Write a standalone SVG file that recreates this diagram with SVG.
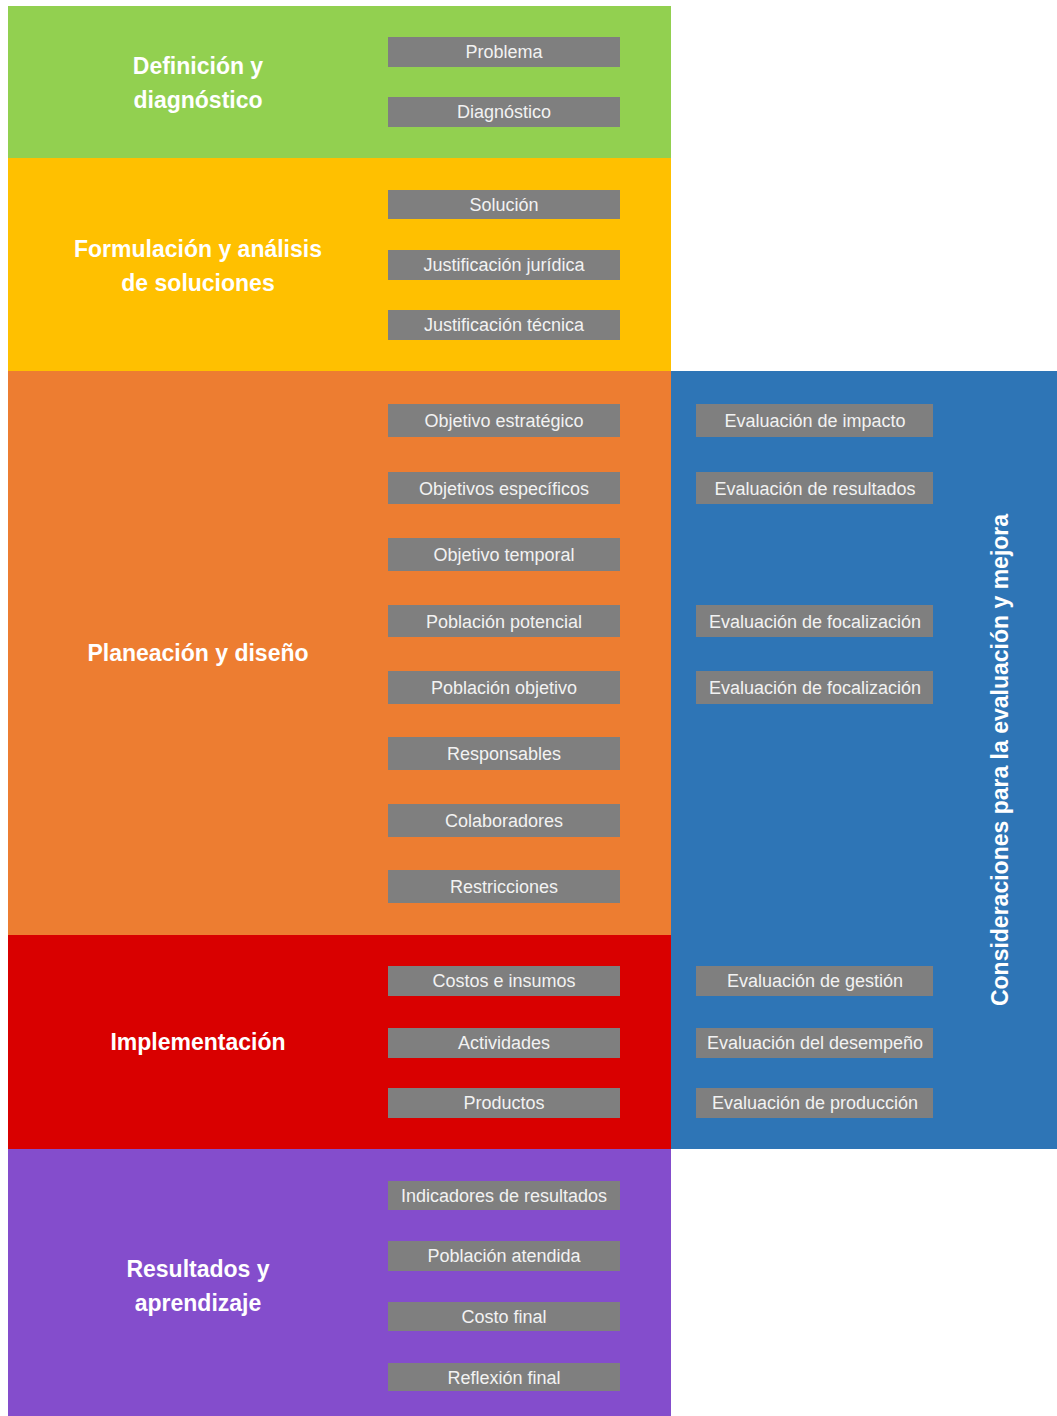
<svg xmlns="http://www.w3.org/2000/svg" width="1057" height="1416" viewBox="0 0 1057 1416">
<style>
.box{fill:#7f7f7f;}
.bt{font-family:"Liberation Sans",Arial,sans-serif;font-size:18px;fill:#f2f2f2;text-anchor:middle;}
.st{font-family:"Liberation Sans",Arial,sans-serif;font-size:23px;font-weight:bold;fill:#ffffff;text-anchor:middle;}
.vt{font-family:"Liberation Sans",Arial,sans-serif;font-size:23px;font-weight:bold;fill:#ffffff;text-anchor:middle;}
</style>
<rect width="1057" height="1416" fill="#ffffff"/>
<g id="bands">
<rect x="8" y="6" width="663" height="152" fill="#92d050"/>
<rect x="8" y="158" width="663" height="213" fill="#ffc000"/>
<rect x="8" y="371" width="663" height="564" fill="#ed7d31"/>
<rect x="8" y="935" width="663" height="214" fill="#d90000"/>
<rect x="8" y="1149" width="663" height="267" fill="#844dcc"/>
<rect x="671" y="371" width="386" height="778" fill="#2e75b6"/>
</g>
<g id="titles">
<text class="st" x="198" y="74">Definición y</text>
<text class="st" x="198" y="108">diagnóstico</text>
<text class="st" x="198" y="257">Formulación y análisis</text>
<text class="st" x="198" y="291">de soluciones</text>
<text class="st" x="198" y="661">Planeación y diseño</text>
<text class="st" x="198" y="1050">Implementación</text>
<text class="st" x="198" y="1277">Resultados y</text>
<text class="st" x="198" y="1311">aprendizaje</text>
<text class="vt" transform="translate(1008,760) rotate(-90)">Consideraciones para la evaluación y mejora</text>
</g>
<g id="left-nodes">
<g id="n-problema"><rect class="box" x="388" y="37" width="232" height="30"/><text class="bt" x="504" y="58">Problema</text></g>
<g id="n-diagnostico"><rect class="box" x="388" y="97" width="232" height="30"/><text class="bt" x="504" y="118">Diagnóstico</text></g>
<g id="n-solucion"><rect class="box" x="388" y="190" width="232" height="29"/><text class="bt" x="504" y="211">Solución</text></g>
<g id="n-jjur"><rect class="box" x="388" y="250" width="232" height="30"/><text class="bt" x="504" y="271">Justificación jurídica</text></g>
<g id="n-jtec"><rect class="box" x="388" y="310" width="232" height="30"/><text class="bt" x="504" y="331">Justificación técnica</text></g>
<g id="n-oest"><rect class="box" x="388" y="404" width="232" height="33"/><text class="bt" x="504" y="427">Objetivo estratégico</text></g>
<g id="n-oesp"><rect class="box" x="388" y="472" width="232" height="32"/><text class="bt" x="504" y="495">Objetivos específicos</text></g>
<g id="n-otem"><rect class="box" x="388" y="538" width="232" height="33"/><text class="bt" x="504" y="561">Objetivo temporal</text></g>
<g id="n-ppot"><rect class="box" x="388" y="605" width="232" height="32"/><text class="bt" x="504" y="628">Población potencial</text></g>
<g id="n-pobj"><rect class="box" x="388" y="671" width="232" height="33"/><text class="bt" x="504" y="694">Población objetivo</text></g>
<g id="n-resp"><rect class="box" x="388" y="737" width="232" height="33"/><text class="bt" x="504" y="760">Responsables</text></g>
<g id="n-colab"><rect class="box" x="388" y="804" width="232" height="33"/><text class="bt" x="504" y="827">Colaboradores</text></g>
<g id="n-restr"><rect class="box" x="388" y="870" width="232" height="33"/><text class="bt" x="504" y="893">Restricciones</text></g>
<g id="n-costos"><rect class="box" x="388" y="966" width="232" height="30"/><text class="bt" x="504" y="987">Costos e insumos</text></g>
<g id="n-activ"><rect class="box" x="388" y="1028" width="232" height="30"/><text class="bt" x="504" y="1049">Actividades</text></g>
<g id="n-prod"><rect class="box" x="388" y="1088" width="232" height="30"/><text class="bt" x="504" y="1109">Productos</text></g>
<g id="n-indic"><rect class="box" x="388" y="1181" width="232" height="29"/><text class="bt" x="504" y="1202">Indicadores de resultados</text></g>
<g id="n-patend"><rect class="box" x="388" y="1241" width="232" height="30"/><text class="bt" x="504" y="1262">Población atendida</text></g>
<g id="n-costof"><rect class="box" x="388" y="1302" width="232" height="29"/><text class="bt" x="504" y="1323">Costo final</text></g>
<g id="n-reflex"><rect class="box" x="388" y="1363" width="232" height="28"/><text class="bt" x="504" y="1384">Reflexión final</text></g>
</g>
<g id="right-nodes">
<g id="e-impacto"><rect class="box" x="696" y="404" width="237" height="33"/><text class="bt" x="815" y="427">Evaluación de impacto</text></g>
<g id="e-result"><rect class="box" x="696" y="472" width="237" height="32"/><text class="bt" x="815" y="495">Evaluación de resultados</text></g>
<g id="e-foc1"><rect class="box" x="696" y="605" width="237" height="32"/><text class="bt" x="815" y="628">Evaluación de focalización</text></g>
<g id="e-foc2"><rect class="box" x="696" y="671" width="237" height="33"/><text class="bt" x="815" y="694">Evaluación de focalización</text></g>
<g id="e-gestion"><rect class="box" x="696" y="966" width="237" height="30"/><text class="bt" x="815" y="987">Evaluación de gestión</text></g>
<g id="e-desemp"><rect class="box" x="696" y="1028" width="237" height="30"/><text class="bt" x="815" y="1049">Evaluación del desempeño</text></g>
<g id="e-produc"><rect class="box" x="696" y="1088" width="237" height="30"/><text class="bt" x="815" y="1109">Evaluación de producción</text></g>
</g>
<g id="connectors"></g>
</svg>
